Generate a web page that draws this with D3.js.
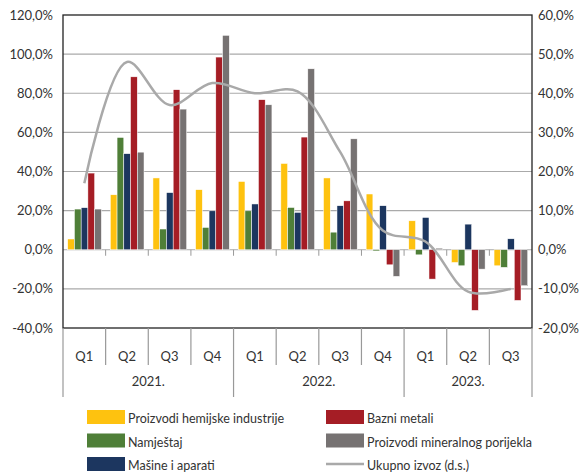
<!DOCTYPE html>
<html>
<head>
<meta charset="utf-8">
<script src="https://cdn.jsdelivr.net/npm/d3@7"></script>
<style>
  body { margin: 0; background: #fff; }
  text { font-family: Lato, "Open Sans", sans-serif; fill: #333; }
</style>
</head>
<body>
<svg width="581" height="475"></svg>
<script>
// data
var quarters = ["Q1", "Q2", "Q3", "Q4", "Q1", "Q2", "Q3", "Q4", "Q1", "Q2", "Q3"];
var years = ["2021.", "2022.", "2023."];
var yearSpan = [4, 4, 3];

var hemija   = [5.5, 28.1, 36.7, 30.7, 34.9, 44.1, 36.7, 28.5, 14.8, -6.5, -8.2];
var namjestaj = [20.8, 57.4, 10.6, 11.4, 19.9, 21.6, 9.0, -0.6, -2.6, -8.2, -9.0];
var masine   = [21.5, 49.1, 29.2, 19.9, 23.4, 19.1, 22.5, 22.5, 16.5, 13.1, 5.6];
var bazni    = [39.2, 88.4, 81.8, 98.5, 76.7, 57.6, 25.0, -7.7, -15.0, -31.0, -25.9];
var mineral  = [20.8, 49.9, 71.9, 109.6, 74.1, 92.5, 56.7, -13.6, 0.8, -9.9, -18.4];
var ukupno   = [17.0, 48.0, 37.0, 42.6, 40.0, 40.5, 25.0, 4.9, 2.1, -10.7, -10.0];

var seriesNames = ["Proizvodi hemijske industrije", "Namještaj", "Mašine i aparati", "Bazni metali", "Proizvodi mineralnog porijekla"];
var seriesColors = ["#fec20f", "#4f7f38", "#1c365f", "#a51d25", "#767272"];
var seriesData = [hemija, namjestaj, masine, bazni, mineral];

var leftTicks = d3.range(-40, 121, 20);
var rightTicks = d3.range(-20, 61, 10);

var svg = d3.select("svg");
var plotL = 63, plotR = 532, plotT = 15, plotB = 328;

var x = d3.scaleBand().domain(d3.range(quarters.length)).range([plotL, plotR]);
var x1 = d3.scaleBand().domain(d3.range(seriesData.length))
  .range([x.bandwidth() * 0.11, x.bandwidth() * 0.9]);
var y = d3.scaleLinear().domain([-40, 120]).range([plotB, plotT]);
var y2 = d3.scaleLinear().domain([-20, 60]).range([plotB, plotT]);

var fmt = function(d) { return d.toFixed(1).replace(".", ",") + "%"; };

// gridlines
svg.append("g")
  .selectAll("line")
  .data(leftTicks.filter(function(d) { return d > -40 && d < 120; }))
  .enter().append("line")
    .attr("x1", plotL).attr("x2", plotR)
    .attr("y1", function(d) { return y(d); })
    .attr("y2", function(d) { return y(d); })
    .attr("stroke", "#aaa")
    .attr("stroke-width", 1.2);

// small ticks under zero line
svg.append("g")
  .selectAll("line")
  .data(d3.range(1, quarters.length))
  .enter().append("line")
    .attr("x1", function(d) { return x(d); })
    .attr("x2", function(d) { return x(d); })
    .attr("y1", y(0)).attr("y2", y(0) + 6)
    .attr("stroke", "#999");

// bars
var rows = seriesData.map(function(vals, s) {
  return vals.map(function(v, i) { return { s: s, i: i, v: v }; });
});
svg.append("g")
  .selectAll("g")
  .data(rows)
  .enter().append("g")
    .attr("fill", function(d, s) { return seriesColors[s]; })
  .selectAll("rect")
  .data(function(d) { return d; })
  .enter().append("rect")
    .attr("x", function(d) { return x(d.i) + x1(d.s); })
    .attr("width", x1.bandwidth())
    .attr("y", function(d) { return y(Math.max(0, d.v)); })
    .attr("height", function(d) { return Math.abs(y(d.v) - y(0)); })
    .attr("stroke", "#fff")
    .attr("stroke-width", 0.5);

// total export line (right axis)
var line = d3.line()
  .x(function(d, i) { return x(i) + x.bandwidth() / 2; })
  .y(function(d) { return y2(d); })
  .curve(d3.curveCatmullRom.alpha(0.5));

svg.append("path")
  .datum(ukupno)
  .attr("d", line)
  .attr("fill", "none")
  .attr("stroke", "#a9a9a9")
  .attr("stroke-width", 2.5);

// frame
svg.append("rect")
  .attr("x", plotL).attr("y", plotT)
  .attr("width", plotR - plotL).attr("height", plotB - plotT)
  .attr("fill", "none")
  .attr("stroke", "#222")
  .attr("stroke-width", 1.3);

// axes labels
svg.append("g")
  .selectAll("text")
  .data(leftTicks)
  .enter().append("text")
    .attr("x", 53)
    .attr("y", function(d) { return y(d) + 4.5; })
    .attr("text-anchor", "end")
    .attr("font-size", 13)
    .text(fmt);

svg.append("g")
  .selectAll("text")
  .data(rightTicks)
  .enter().append("text")
    .attr("x", 538)
    .attr("y", function(d) { return y2(d) + 4.5; })
    .attr("text-anchor", "start")
    .attr("font-size", 13)
    .text(fmt);

// category axis below
var catAxis = svg.append("g");
catAxis.selectAll("line.q")
  .data(d3.range(quarters.length + 1))
  .enter().append("line")
    .attr("class", "q")
    .attr("x1", function(d) { return d < quarters.length ? x(d) : plotR; })
    .attr("x2", function(d) { return d < quarters.length ? x(d) : plotR; })
    .attr("y1", plotB).attr("y2", 365)
    .attr("stroke", "#999")
    .attr("stroke-width", 1.2);

catAxis.selectAll("text.q")
  .data(quarters)
  .enter().append("text")
    .attr("class", "q")
    .attr("x", function(d, i) { return x(i) + x.bandwidth() / 2; })
    .attr("y", 361)
    .attr("text-anchor", "middle")
    .attr("font-size", 13)
    .text(function(d) { return d; });

var starts = [0];
yearSpan.forEach(function(n, i) { starts.push(starts[i] + n); });
catAxis.selectAll("line.y")
  .data(starts)
  .enter().append("line")
    .attr("class", "y")
    .attr("x1", function(d) { return d < quarters.length ? x(d) : plotR; })
    .attr("x2", function(d) { return d < quarters.length ? x(d) : plotR; })
    .attr("y1", 365).attr("y2", 397)
    .attr("stroke", "#999")
    .attr("stroke-width", 1.2);

catAxis.selectAll("text.y")
  .data(years)
  .enter().append("text")
    .attr("class", "y")
    .attr("x", function(d, i) {
      var a = x(starts[i]);
      var b = starts[i + 1] < quarters.length ? x(starts[i + 1]) : plotR;
      return (a + b) / 2;
    })
    .attr("y", 386)
    .attr("text-anchor", "middle")
    .attr("font-size", 13)
    .text(function(d) { return d; });

// legend
var legendItems = [
  { name: seriesNames[0], color: seriesColors[0], col: 0, row: 0 },
  { name: seriesNames[1], color: seriesColors[1], col: 0, row: 1 },
  { name: seriesNames[2], color: seriesColors[2], col: 0, row: 2 },
  { name: seriesNames[3], color: seriesColors[3], col: 1, row: 0 },
  { name: seriesNames[4], color: seriesColors[4], col: 1, row: 1 },
  { name: "Ukupno izvoz (d.s.)", color: "#a9a9a9", col: 1, row: 2, line: true }
];
var lg = svg.append("g")
  .selectAll("g")
  .data(legendItems)
  .enter().append("g")
    .attr("transform", function(d) { return "translate(" + (d.col ? 326 : 87) + "," + (410 + d.row * 23.5) + ")"; });

lg.filter(function(d) { return !d.line; })
  .append("rect")
    .attr("width", 38).attr("height", 14)
    .attr("fill", function(d) { return d.color; });

lg.filter(function(d) { return d.line; })
  .append("line")
    .attr("x1", 0).attr("x2", 38)
    .attr("y1", 7).attr("y2", 7)
    .attr("stroke", function(d) { return d.color; })
    .attr("stroke-width", 2.5);

lg.append("text")
  .attr("x", 41)
  .attr("y", 13)
  .attr("font-size", 12.5)
  .text(function(d) { return d.name; });
</script>
</body>
</html>
